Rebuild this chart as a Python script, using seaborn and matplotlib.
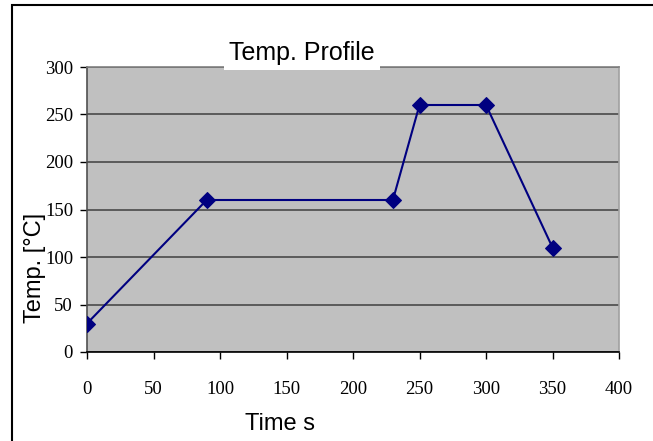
import matplotlib
matplotlib.use("Agg")
import matplotlib.pyplot as plt
import seaborn as sns
import pandas as pd
from matplotlib.patches import Rectangle

time_s = [0, 90, 230, 250, 300, 350]
temp_c = [30, 160, 160, 260, 260, 110]
x_ticks = [0, 50, 100, 150, 200, 250, 300, 350, 400]
y_ticks = [0, 50, 100, 150, 200, 250, 300]

df = pd.DataFrame({"Time s": time_s, "Temp": temp_c})

sns.set_style("white")
plt.rcParams['font.family'] = ['Liberation Sans', 'DejaVu Sans']
plt.rcParams['text.color'] = 'black'
plt.rcParams['xtick.color'] = 'black'
plt.rcParams['ytick.color'] = 'black'

W, H = 653, 441
fig = plt.figure(figsize=(W / 100, H / 100), dpi=100)
ax = fig.add_axes([87 / W, 1 - 352 / H, (619 - 87) / W, (352 - 67) / H])
ax.set_facecolor('#C0C0C0')

sns.lineplot(data=df, x="Time s", y="Temp", ax=ax, color='#000080', linewidth=1.5,
             marker='D', markersize=8, markeredgecolor='#000080', sort=False, zorder=3)

ax.set_xlim(0, 400)
ax.set_ylim(0, 300)
ax.set_xticks(x_ticks)
ax.set_yticks(y_ticks)
ax.set_xticklabels([str(v) for v in x_ticks], family='Liberation Serif', fontsize=13.5, color='black')
ax.set_yticklabels([str(v) for v in y_ticks], family='Liberation Serif', fontsize=13.5, color='black')
ax.tick_params(axis='x', direction='out', length=5, width=1, color='black', pad=16, bottom=True)
ax.tick_params(axis='y', direction='out', length=5, width=1, color='black', pad=5, left=True)
ax.yaxis.grid(True, color='#4a4a4a', linewidth=1.2)
ax.xaxis.grid(False)
ax.set_axisbelow(True)
ax.set_xlabel("")
ax.set_ylabel("")

for side, c in (('top', '#808080'), ('right', '#a0a0a0'), ('left', '#505050'), ('bottom', 'black')):
    ax.spines[side].set_visible(True)
    ax.spines[side].set_color(c)
    ax.spines[side].set_linewidth(1.2)

# figure border
fig.patches.append(Rectangle((12 / W, -0.05), 1.2, 1 - 5 / H + 0.05, transform=fig.transFigure,
                             fill=False, edgecolor='black', linewidth=1.5, zorder=0))

# title with white background
fig.text(302 / W, 1 - 60 / H, "Temp. Profile", ha='center', va='baseline', fontsize=18,
         color='black', bbox=dict(facecolor='white', edgecolor='none', pad=3.5), zorder=5)

fig.text(35 / W, 1 - 268 / H, "Temp. [°C]", rotation=90, ha='center', va='center',
         fontsize=17, color='black')
fig.text(280 / W, 1 - 424 / H, "Time s", ha='center', va='center', fontsize=17, color='black')

fig.savefig("out.png", dpi=100)
